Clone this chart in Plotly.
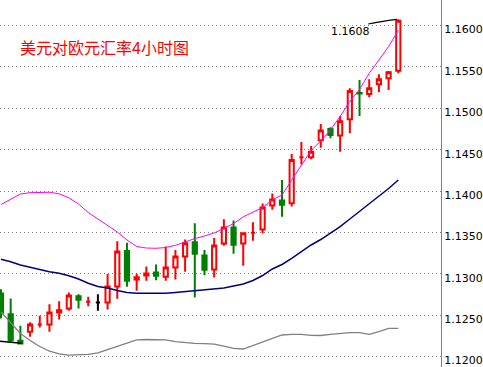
import plotly.graph_objects as go

# ---------------- data ----------------
idx = list(range(42))

opens = [1.12763, 1.12513, 1.12191, 1.12299, 1.12388, 1.12388, 1.12533, 1.12581, 1.12730, 1.12662,
         1.12654, 1.12654, 1.12847, 1.13275, 1.12932, 1.12980, 1.13017, 1.12964, 1.13077, 1.13210,
         1.13383, 1.13222, 1.13053, 1.13367, 1.13561, 1.13367, 1.13496, 1.13537, 1.13827, 1.13887,
         1.13854, 1.14409, 1.14409, 1.14615, 1.14750, 1.14673, 1.14868, 1.15185, 1.15174, 1.15291,
         1.15364, 1.15455]
highs = [1.12815, 1.12702, 1.12372, 1.12416, 1.12493, 1.12634, 1.12670, 1.12775, 1.12755, 1.12722,
         1.12755, 1.12997, 1.13395, 1.13375, 1.13001, 1.13089, 1.13113, 1.13331, 1.13287, 1.13416,
         1.13613, 1.13287, 1.13432, 1.13661, 1.13645, 1.13504, 1.13625, 1.13851, 1.13972, 1.14133,
         1.14448, 1.14594, 1.14546, 1.14812, 1.14771, 1.14908, 1.15243, 1.15343, 1.15351, 1.15412,
         1.15452, 1.16076]
lows = [1.12460, 1.12166, 1.12150, 1.12239, 1.12352, 1.12299, 1.12448, 1.12553, 1.12581, 1.12610,
        1.12553, 1.12569, 1.12698, 1.12843, 1.12795, 1.12916, 1.12924, 1.12916, 1.12932, 1.13025,
        1.12714, 1.12984, 1.12956, 1.13339, 1.13242, 1.13097, 1.13400, 1.13488, 1.13774, 1.13690,
        1.13813, 1.14320, 1.14385, 1.14525, 1.14638, 1.14477, 1.14699, 1.14908, 1.15134, 1.15194,
        1.15222, 1.15424]
closes = [1.12529, 1.12199, 1.12158, 1.12388, 1.12388, 1.12533, 1.12561, 1.12739, 1.12686, 1.12662,
          1.12654, 1.12847, 1.13271, 1.12916, 1.12960, 1.13005, 1.12976, 1.13077, 1.13210, 1.13371,
          1.13242, 1.13049, 1.13343, 1.13561, 1.13351, 1.13492, 1.13496, 1.13803, 1.13899, 1.13835,
          1.14377, 1.14409, 1.14477, 1.14731, 1.14678, 1.14845, 1.15210, 1.15180, 1.15243, 1.15351,
          1.15436, 1.16059]
black_doji = [10]

upper_band = [1.13838, 1.13905, 1.13965, 1.13981, 1.13986, 1.13986, 1.13967, 1.13919, 1.13844, 1.13741,
              1.13663, 1.13587, 1.13506, 1.13409, 1.13331, 1.13312, 1.13309, 1.13318, 1.13345, 1.13385,
              1.13427, 1.13457, 1.13494, 1.13548, 1.13608, 1.13689, 1.13741, 1.13802, 1.13892, 1.13953,
              1.14134, 1.14321, 1.14491, 1.14605, 1.14738, 1.14902, 1.15083, 1.15228, 1.15424, 1.15584,
              1.15747, 1.15941]
middle_band = [1.13176, 1.13147, 1.13107, 1.13079, 1.13055, 1.13026, 1.13007, 1.12978, 1.12938, 1.12886,
               1.12847, 1.12829, 1.12799, 1.12775, 1.12765, 1.12765, 1.12765, 1.12765, 1.12775, 1.12787,
               1.12799, 1.12807, 1.12819, 1.12829, 1.12853, 1.12877, 1.12920, 1.12980, 1.13059, 1.13113,
               1.13186, 1.13264, 1.13349, 1.13415, 1.13494, 1.13572, 1.13663, 1.13754, 1.13844, 1.13929,
               1.14031, 1.14134]
lower_band = [1.12539, 1.12406, 1.12279, 1.12195, 1.12122, 1.12065, 1.12034, 1.12019, 1.12019, 1.12028,
              1.12044, 1.12082, 1.12122, 1.12158, 1.12201, 1.12207, 1.12207, 1.12201, 1.12182, 1.12167,
              1.12161, 1.12158, 1.12152, 1.12128, 1.12100, 1.12092, 1.12134, 1.12176, 1.12219, 1.12261,
              1.12269, 1.12269, 1.12257, 1.12255, 1.12269, 1.12279, 1.12289, 1.12289, 1.12269, 1.12303,
              1.12340, 1.12342]

ytick_vals = [1.1200, 1.1250, 1.1300, 1.1350, 1.1400, 1.1450, 1.1500, 1.1550, 1.1600]
ytick_text = ["1.1200", "1.1250", "1.1300", "1.1350", "1.1400", "1.1450", "1.1500", "1.1550", "1.1600"]

title_text = "美元对欧元汇率4小时图"
high_label = "1.1608"
high_conn_x = [37.9, 39.42, 40.87]
high_conn_y = [1.16019, 1.16052, 1.16076]
low_conn_x = [-0.103, 1.2, 2.14]
low_conn_y = [1.12185, 1.12173, 1.12161]

# ---------------- groups ----------------
red_i, green_i, black_i = [], [], []
for i in idx:
    if i in black_doji:
        black_i.append(i)
    elif closes[i] < opens[i]:
        green_i.append(i)
    else:
        red_i.append(i)


def sub(arr, ii):
    return [arr[k] for k in ii]


def candle(ii, line_color, fill):
    style = dict(line=dict(color=line_color, width=2), fillcolor=fill)
    return go.Candlestick(
        x=ii, open=sub(opens, ii), high=sub(highs, ii), low=sub(lows, ii), close=sub(closes, ii),
        increasing=style, decreasing=style, whiskerwidth=0, showlegend=False, hoverinfo="skip")


fig = go.Figure()
fig.add_trace(candle(red_i, "#ff0000", "#ffffff"))
fig.add_trace(candle(green_i, "#008000", "#008000"))
fig.add_trace(candle(black_i, "#000000", "#ffffff"))

fig.add_trace(go.Scatter(x=idx, y=upper_band, mode="lines", line=dict(color="#ff00ff", width=1),
                         showlegend=False, hoverinfo="skip"))
fig.add_trace(go.Scatter(x=idx, y=middle_band, mode="lines", line=dict(color="#000080", width=1.5),
                         showlegend=False, hoverinfo="skip"))
fig.add_trace(go.Scatter(x=idx, y=lower_band, mode="lines", line=dict(color="#808080", width=1.3),
                         showlegend=False, hoverinfo="skip"))
fig.add_trace(go.Scatter(x=high_conn_x, y=high_conn_y, mode="lines", line=dict(color="#000000", width=1.2, shape="spline"),
                         showlegend=False, hoverinfo="skip"))
fig.add_trace(go.Scatter(x=low_conn_x, y=low_conn_y, mode="lines", line=dict(color="#000000", width=1.5),
                         showlegend=False, hoverinfo="skip"))

fig.update_layout(
    width=483, height=367,
    margin=dict(l=0, r=42, t=0, b=0),
    paper_bgcolor="#ffffff", plot_bgcolor="#ffffff",
    boxgap=0.38,
    xaxis=dict(range=[-0.103, 45.408], rangeslider=dict(visible=False), showgrid=False,
               showticklabels=False, zeroline=False, showline=False, ticks=""),
    yaxis=dict(side="right", range=[1.118744, 1.163094], tickvals=ytick_vals, ticktext=ytick_text,
               showgrid=True, gridcolor="#808080", gridwidth=1, griddash="1px,3px",
               showline=True, linecolor="#808080", linewidth=1, ticks="", zeroline=False,
               automargin=False, ticklabelshift=4, ticklabeloverflow="allow",
               tickfont=dict(family="DejaVu Sans", size=11, color="#000000")),
    annotations=[
        dict(text=title_text, xref="paper", yref="paper", x=18 / 441, y=1 - 47 / 367,
             xanchor="left", yanchor="middle", showarrow=False,
             font=dict(family="Noto Sans CJK SC", size=16, color="#ff0000")),
        dict(text=high_label, xref="x", yref="y", x=33.8, y=1.15923,
             xanchor="left", yanchor="middle", showarrow=False,
             font=dict(family="DejaVu Sans", size=11, color="#000000")),
    ],
)

fig.write_html("out.html", config={"displayModeBar": False},
               post_script="document.body.style.margin='0';document.body.style.padding='0';")
